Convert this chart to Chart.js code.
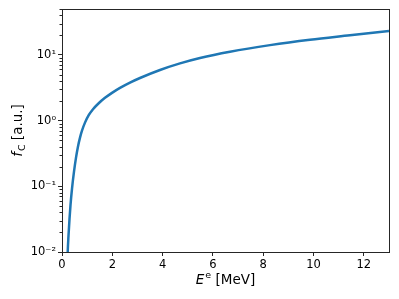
<!DOCTYPE html>
<html>
<head>
<meta charset="utf-8">
<script src="https://cdn.jsdelivr.net/npm/chart.js@4/dist/chart.umd.min.js"></script>
<style>
html,body{margin:0;padding:0;background:#fff;}
#wrap{width:399px;height:299px;position:relative;}
</style>
</head>
<body>
<div id="wrap"><canvas id="c" width="399" height="299"></canvas></div>
<script>
// Data
const energy = [0.205, 0.227, 0.258, 0.298, 0.338, 0.398, 0.477, 0.557, 0.636, 0.716, 0.795, 0.914, 1.062, 1.232, 1.459, 1.710, 1.988, 2.306, 2.703, 3.101, 3.896, 4.691, 5.486, 6.679, 8.269, 9.859, 11.449, 13.0];
const fc     = [0.005, 0.0100, 0.0175, 0.0317, 0.0518, 0.0923, 0.167, 0.273, 0.404, 0.550, 0.702, 0.932, 1.208, 1.491, 1.838, 2.221, 2.646, 3.151, 3.793, 4.456, 5.895, 7.428, 8.973, 11.18, 14.09, 17.02, 19.86, 23.08];
const xTicks = [0, 2, 4, 6, 8, 10, 12];
const yDecades = [0.01, 0.1, 1, 10];
const yDecadeLabels = ['10⁻²', '10⁻¹', '10⁰', '10¹'];
const xTitle = {main: 'E', sup: 'e', rest: ' [MeV]'};
const yTitle = {main: 'f', sub: 'C', rest: ' [a.u.]'};

const FONT = "'DejaVu Sans', sans-serif";
const isDecade = v => yDecades.some(d => Math.abs(d - v) / d < 1e-6);

const frame = {
  id: 'frame',
  afterDraw(chart) {
    const {ctx, chartArea: a} = chart;
    const ys = chart.scales.y;
    ctx.save();
    ctx.strokeStyle = '#262626';
    ctx.lineWidth = 1;
    ctx.strokeRect(a.left + 0.5, a.top + 0.5, a.right - a.left, a.bottom - a.top);
    // short minor ticks on the log axis
    ctx.beginPath();
    ys.ticks.forEach(t => {
      if (!isDecade(t.value)) {
        const py = Math.round(ys.getPixelForValue(t.value)) + 0.5;
        ctx.moveTo(a.left - 2.5, py); ctx.lineTo(a.left + 0.5, py);
      }
    });
    ctx.stroke();
    ctx.fillStyle = '#000';
    ctx.textBaseline = 'alphabetic';
    const fMain = "italic 13.5px " + FONT, fSup = "9.5px " + FONT, fRest = "13.5px " + FONT;
    // x title: E^e [MeV]
    ctx.font = fMain; const w1 = ctx.measureText(xTitle.main).width;
    ctx.font = fSup; const w2 = ctx.measureText(xTitle.sup).width;
    ctx.font = fRest; const w3 = ctx.measureText(xTitle.rest).width;
    let x = (a.left + a.right) / 2 - (w1 + w2 + 1 + w3) / 2;
    const by = 284;
    ctx.font = fMain; ctx.fillText(xTitle.main, x, by); x += w1 + 1;
    ctx.font = fSup; ctx.fillText(xTitle.sup, x, by - 6); x += w2;
    ctx.font = fRest; ctx.fillText(xTitle.rest, x, by);
    // y title: f_C [a.u.] rotated
    ctx.translate(22, (a.top + a.bottom) / 2);
    ctx.rotate(-Math.PI / 2);
    ctx.font = fMain; const v1 = ctx.measureText(yTitle.main).width;
    ctx.font = fSup; const v2 = ctx.measureText(yTitle.sub).width;
    ctx.font = fRest; const v3 = ctx.measureText(yTitle.rest).width;
    let y = -(v1 + v2 + 1 + v3) / 2;
    ctx.font = fMain; ctx.fillText(yTitle.main, y, 0); y += v1 + 1;
    ctx.font = fSup; ctx.fillText(yTitle.sub, y, 3); y += v2;
    ctx.font = fRest; ctx.fillText(yTitle.rest, y, 0);
    ctx.restore();
  }
};

new Chart(document.getElementById('c'), {
  type: 'line',
  data: {
    datasets: [{
      data: energy.map((e, i) => ({x: e, y: fc[i]})),
      borderColor: '#1f77b4',
      borderWidth: 2.5,
      pointRadius: 0,
      fill: false,
      cubicInterpolationMode: 'monotone',
      clip: 0
    }]
  },
  options: {
    responsive: false,
    animation: false,
    devicePixelRatio: 1,
    layout: {padding: {top: 9, right: 10, left: 0, bottom: 0}},
    plugins: {legend: {display: false}, tooltip: {enabled: false}},
    scales: {
      x: {
        type: 'linear', min: 0, max: 13,
        afterFit(s) { s.height = 47; },
        afterBuildTicks(s) { s.ticks = xTicks.map(v => ({value: v})); },
        grid: {drawOnChartArea: false, tickLength: 4, color: '#262626'},
        border: {color: '#262626'},
        ticks: {color: '#000', font: {family: FONT, size: 11.5}, padding: 2, maxRotation: 0, autoSkip: false}
      },
      y: {
        type: 'logarithmic', min: 0.01, max: 50,
        afterFit(s) { s.width = 62; },
        afterBuildTicks(s) {
          const t = [];
          for (let d = 0.01; d < 100; d *= 10) {
            for (let m = 1; m <= 9; m++) {
              const v = +(m * d).toPrecision(3);
              if (v >= 0.01 && v <= 50) t.push({value: v, major: m === 1});
            }
          }
          s.ticks = t;
        },
        grid: {
          drawOnChartArea: false, tickLength: 4, color: '#262626',
          tickColor: (c) => (c.tick && isDecade(c.tick.value)) ? '#262626' : 'rgba(0,0,0,0)'
        },
        border: {color: '#262626'},
        ticks: {
          color: '#000', font: {family: FONT, size: 11.5}, padding: 2, autoSkip: false,
          callback(v) {
            const i = yDecades.findIndex(d => Math.abs(d - v) / d < 1e-6);
            return i >= 0 ? yDecadeLabels[i] : '';
          }
        }
      }
    }
  },
  plugins: [frame]
});
</script>
</body>
</html>
